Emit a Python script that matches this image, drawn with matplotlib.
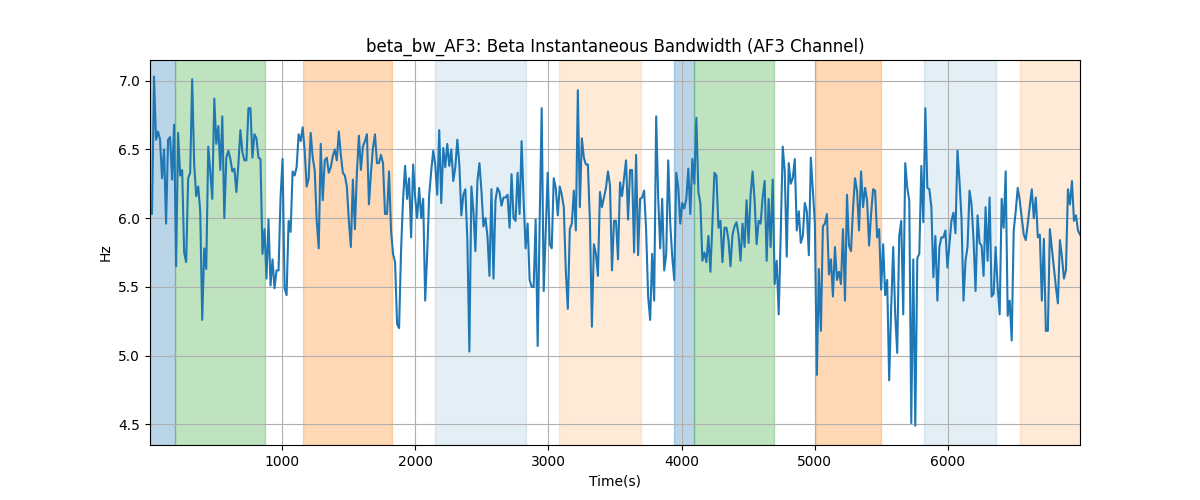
import numpy as np
import matplotlib
matplotlib.use('Agg')
import matplotlib.pyplot as plt

# Beta bandwidth values, left to right (Hz)
seg1 = [6.05, 6.03, 7.03, 6.57, 6.63, 6.57, 6.29, 6.5, 5.96, 6.57, 6.59, 6.28, 6.68, 5.65, 6.62, 6.31,
        6.35, 5.75, 5.68, 6.29, 6.33, 7.01, 6.39, 6.16, 6.23, 6.05, 5.26, 5.78, 5.63, 6.52, 6.34, 6.14,
        6.87, 6.54, 6.67, 6.35, 6.74, 6.0, 6.44, 6.49, 6.43, 6.34, 6.36, 6.19, 6.39, 6.64, 6.48, 6.42,
        6.42, 6.80, 6.80, 6.44, 6.61, 6.58, 6.44, 6.43, 5.74, 5.92, 5.56, 5.99, 5.51, 5.70, 5.49, 5.62,
        5.62, 6.15, 6.43, 5.49, 5.44, 5.98, 5.90, 6.34, 6.31, 6.37]
seg2 = [6.61, 6.56, 6.66, 6.49, 6.23, 6.29, 6.62, 6.44, 6.35, 5.98, 5.78, 6.54, 6.13, 6.42, 6.44, 6.33,
        6.37, 6.45, 6.50, 6.42, 6.63, 6.46, 6.33, 6.31, 6.23, 5.98, 5.79, 6.28, 5.92, 6.33, 6.60, 6.35,
        6.52, 6.56, 6.61, 6.10, 6.33, 6.51, 6.61, 6.40, 6.40, 6.46, 6.40, 6.03, 6.03, 6.34, 5.91, 5.74,
        5.68, 5.23, 5.20, 5.77, 6.14, 6.38, 6.14, 6.29, 5.86, 6.39, 6.15, 6.0, 6.22, 6.0, 6.14, 5.40,
        5.74, 6.17, 6.34, 6.49, 6.39, 6.17, 6.64, 6.11, 6.51, 6.37, 6.54, 6.38, 6.50]
seg3 = [6.27, 6.37, 6.57, 6.39, 6.02, 6.17, 6.21, 5.84, 5.03, 6.23, 6.05, 5.76, 6.27, 6.40, 6.20, 5.94,
        6.0, 5.87, 5.58, 6.21, 5.56, 6.13, 6.22, 6.19, 6.09, 6.15, 6.15, 6.17, 5.93, 6.32, 6.0, 5.98,
        6.33, 6.03, 6.56, 6.13, 5.78, 5.96, 5.55, 5.50, 5.50, 5.99, 5.07, 5.98, 6.80, 5.47, 5.91, 6.33,
        5.81, 5.78, 6.29, 6.22, 6.02, 6.23, 6.17, 6.08, 5.62, 5.34, 5.92, 5.96, 6.20, 5.91, 6.93, 6.08,
        6.58, 6.44, 6.39, 6.39, 5.98, 5.21, 5.81, 5.74, 5.58, 6.19, 6.08, 6.15, 6.22]
seg4 = [6.34, 6.24, 5.62, 5.98, 5.98, 5.70, 6.26, 6.16, 6.29, 6.42, 5.99, 6.35, 6.35, 5.75, 6.46, 5.73,
        6.14, 6.15, 6.20, 5.91, 5.43, 5.26, 5.74, 5.40, 6.74, 6.15, 5.78, 6.14, 5.62, 5.74, 6.42, 5.96,
        5.72, 5.55, 6.33, 6.22, 5.96, 6.11, 6.07, 6.14, 6.36, 6.03, 6.43, 6.25, 6.73, 6.19, 6.11, 5.69,
        5.75, 5.68, 5.87, 5.61, 5.96, 6.33, 6.31, 5.93, 5.98, 5.68, 5.93, 5.93, 5.84, 5.65, 5.88, 5.94,
        5.97, 5.88, 5.69, 5.96, 5.79, 6.13, 5.82, 6.17, 6.34, 6.13, 5.81, 5.98, 5.96, 6.15]
seg5 = [6.27, 5.69, 6.14, 5.79, 6.28, 5.52, 5.69, 5.30, 5.88, 6.52, 6.34, 5.72, 6.40, 6.25, 6.29, 6.43,
        5.91, 6.05, 5.82, 5.87, 6.11, 6.05, 5.73, 6.44, 6.20, 5.96, 4.86, 5.63, 5.18, 5.94, 5.96, 6.03,
        5.59, 5.70, 5.43, 5.79, 5.55, 5.61, 5.52, 5.92, 5.40, 6.17, 5.80, 5.76, 6.07, 6.29, 6.20, 5.91,
        6.34, 6.08, 6.22, 6.13, 5.80, 6.03, 6.21, 6.20, 5.86, 5.92, 5.48, 5.81, 5.44, 5.55, 4.82, 5.35,
        5.79, 5.30, 5.02, 5.87, 5.98, 5.30, 6.40, 6.22, 6.13, 4.51, 5.70, 4.49, 5.71, 5.74]
seg6 = [6.38, 5.97, 6.80, 6.22, 6.21, 6.08, 5.57, 5.87, 5.40, 5.79, 5.86, 5.86, 5.91, 5.64, 5.81, 5.98,
        6.04, 5.89, 6.49, 6.27, 6.0, 5.40, 5.69, 5.79, 6.20, 6.10, 5.84, 5.47, 6.02, 5.82, 5.80, 5.58,
        6.08, 5.69, 6.15, 5.43, 5.45, 5.79, 5.50, 5.30, 6.14, 5.93, 6.34, 5.29, 5.40, 5.11, 5.91, 6.05,
        6.22, 6.13, 6.0, 5.88, 5.84, 5.96, 6.09, 6.21, 6.0, 6.15, 5.86, 5.88, 5.40, 5.85, 5.18, 5.18,
        5.92, 5.78, 5.64, 5.50, 5.38, 5.84, 5.72, 5.56, 5.62, 6.21, 6.10, 6.27, 5.98, 6.02, 5.91, 5.88]

bw = np.array(seg1 + seg2 + seg3 + seg4 + seg5 + seg6)
t_start, t_end = 9, 6991
time = np.linspace(t_start, t_end, len(bw))  # evenly spaced samples

# shaded intervals (start, end, colour, alpha)
spans = [
    (9, 196, 'tab:blue', 0.3),
    (196, 872, 'tab:green', 0.3),
    (1158, 1827, 'tab:orange', 0.3),
    (2150, 2835, 'tab:blue', 0.12),
    (3083, 3692, 'tab:orange', 0.16),
    (3940, 4090, 'tab:blue', 0.3),
    (4090, 4692, 'tab:green', 0.3),
    (5008, 5496, 'tab:orange', 0.3),
    (5820, 6361, 'tab:blue', 0.12),
    (6541, 6991, 'tab:orange', 0.16),
]

fig, ax = plt.subplots(figsize=(12, 5), dpi=100)
for s, e, c, a in spans:
    ax.axvspan(s, e, color=c, alpha=a)
ax.plot(time, bw, color='tab:blue')
ax.set_xlim(t_start, t_end)
ax.set_ylim(4.35, 7.15)
ax.grid(True)
ax.set_title('beta_bw_AF3: Beta Instantaneous Bandwidth (AF3 Channel)')
ax.set_xlabel('Time(s)')
ax.set_ylabel('Hz')
plt.savefig('out.png')
